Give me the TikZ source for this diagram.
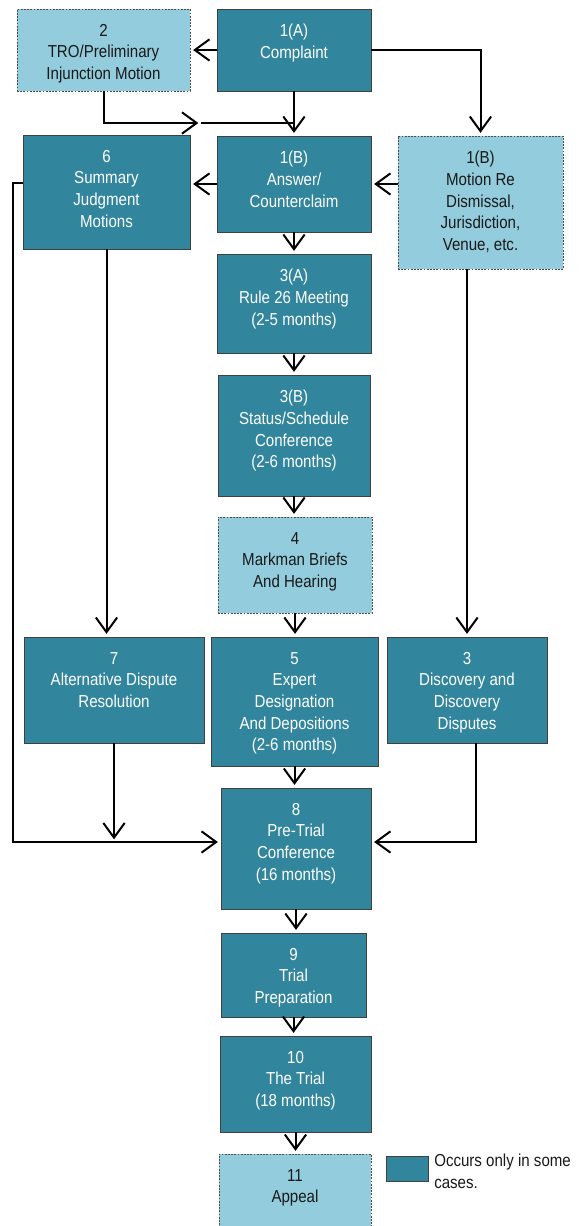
\documentclass[tikz,border=0pt]{standalone}
\usepackage{fontspec}
\setmainfont{Liberation Sans}[FakeStretch=0.87]
\usepackage{tikz}
\usetikzlibrary{arrows.meta, fit, positioning}
\definecolor{stageDark}{RGB}{49, 133, 156}
\definecolor{stageLight}{RGB}{147, 205, 221}

\begin{document}
\begin{tikzpicture}[x=0.75pt, y=-0.75pt,
  darkbox/.style={draw=black!75, line width=0.7pt, fill=stageDark, inner sep=0pt},
  lightbox/.style={draw=black!70, line width=0.7pt, dash pattern=on 1.3pt off 1.1pt, fill=stageLight, inner sep=0pt},
  boxtxt/.style={anchor=north, align=center, inner sep=0pt, font=\fontsize{13pt}{16.3pt}\selectfont},
  dtxt/.style={boxtxt, text=white},
  ltxt/.style={boxtxt, text=black!90},
  link/.style={line width=1.5pt},
  arr/.style={link, -{Straight Barb[length=11pt, width=16pt]}, shorten >=2pt}]
  \useasboundingbox (0,0) rectangle (578,1226);

  % top row
  \node[lightbox, fit={(17,9) (190,91)}] (tro) {};
  \node[ltxt] (tro-t) at ([yshift=-11.5pt]tro.north) {2\\TRO/Preliminary\\Injunction Motion};
  \node[darkbox, fit={(217,9) (371,91)}] (cmp) {};
  \node[dtxt] (cmp-t) at ([yshift=-11.5pt]cmp.north) {1(A)\\Complaint};

  % second row
  \node[darkbox, fit={(23,135) (190,249)}] (six) {};
  \node[dtxt] (six-t) at ([yshift=-11.5pt]six.north) {6\\Summary\\Judgment\\Motions};
  \node[darkbox, fit={(217,136) (371,232)}] (ans) {};
  \node[dtxt] (ans-t) at ([yshift=-11.5pt]ans.north) {1(B)\\Answer/\\Counterclaim};
  \node[lightbox, fit={(398,136) (563,269)}] (mot) {};
  \node[ltxt] (mot-t) at ([yshift=-11.5pt]mot.north) {1(B)\\Motion Re\\Dismissal,\\Jurisdiction,\\Venue, etc.};

  % middle column
  \node[darkbox, fit={(217,254) (371,353)}] (ra) {};
  \node[dtxt] (ra-t) at ([yshift=-11.5pt]ra.north) {3(A)\\Rule 26 Meeting\\(2-5 months)};
  \node[darkbox, fit={(218,375) (370,496)}] (sc) {};
  \node[dtxt] (sc-t) at ([yshift=-11.5pt]sc.north) {3(B)\\Status/Schedule\\Conference\\(2-6 months)};
  \node[lightbox, fit={(218,517) (372,613)}] (mk) {};
  \node[ltxt] (mk-t) at ([yshift=-11.5pt]mk.north) {4\\Markman Briefs\\And Hearing};

  % third row
  \node[darkbox, fit={(24,637) (204,743)}] (alt) {};
  \node[dtxt] (alt-t) at ([yshift=-11.5pt]alt.north) {7\\Alternative Dispute\\Resolution};
  \node[darkbox, fit={(211,637) (378,766)}] (exp) {};
  \node[dtxt] (exp-t) at ([yshift=-11.5pt]exp.north) {5\\Expert\\Designation\\And Depositions\\(2-6 months)};
  \node[darkbox, fit={(387,637) (547,743)}] (disc) {};
  \node[dtxt] (disc-t) at ([yshift=-11.5pt]disc.north) {3\\Discovery and\\Discovery\\Disputes};

  % bottom column
  \node[darkbox, fit={(221,788) (371,909)}] (pt) {};
  \node[dtxt] (pt-t) at ([yshift=-11.5pt]pt.north) {8\\Pre-Trial\\Conference\\(16 months)};
  \node[darkbox, fit={(221,933) (366,1017)}] (tp) {};
  \node[dtxt] (tp-t) at ([yshift=-11.5pt]tp.north) {9\\Trial\\Preparation};
  \node[darkbox, fit={(220,1036) (371,1132)}] (tr) {};
  \node[dtxt] (tr-t) at ([yshift=-11.5pt]tr.north) {10\\The Trial\\(18 months)};
  \node[lightbox, fit={(219,1154) (371,1232)}] (ap) {};
  \node[ltxt] (ap-t) at ([yshift=-11.5pt]ap.north) {11\\Appeal};

  % legend
  \node[darkbox, fit={(386,1156) (428,1181)}] (key) {};
  \node[ltxt, anchor=north west, align=left] (key-t) at (434,1154) {Occurs only in some\\cases.};

  % connectors
  \coordinate (mid) at (201,123);
  \coordinate (jn) at (294,123);
  \coordinate (lc) at (13,842);

  \draw[arr] (cmp.west) -- (cmp.west -| tro.east);
  \draw[arr] (cmp.east) -| (mot.north);
  \draw[arr] (cmp.south) -- (ans.north);
  \draw[arr] (tro.south) |- (mid);
  \draw[link] (mid) -- (jn);
  \draw[arr] (ans.west) -- (ans.west -| six.east);
  \draw[arr] (ans.east -| mot.west) -- (ans.east);
  \draw[arr] (ans.south) -- (ans.south |- ra.north);
  \draw[arr] (ra.south) -- (ra.south |- sc.north);
  \draw[arr] (sc.south) -- (sc.south |- mk.north);
  \draw[arr] (mk.south) -- (mk.south |- exp.north);
  \draw[arr] (exp.south) -- (exp.south |- pt.north);
  \draw[arr] (pt.south) -- (pt.south |- tp.north);
  \draw[arr] (tp.south) -- (tp.south |- tr.north);
  \draw[arr] (tr.south) -- (tr.south |- ap.north);
  \draw[arr] (six.south) -- (six.south |- alt.north);
  \draw[arr] (disc.north |- mot.south) -- (disc.north);
  \draw[arr] ([yshift=7pt]six.west) -| (lc) -- (lc -| pt.west);
  \draw[arr] (alt.south) -- (alt.south |- lc);
  \draw[arr] ([xshift=7pt]disc.south) |- (lc -| pt.east);
\end{tikzpicture}
\end{document}
